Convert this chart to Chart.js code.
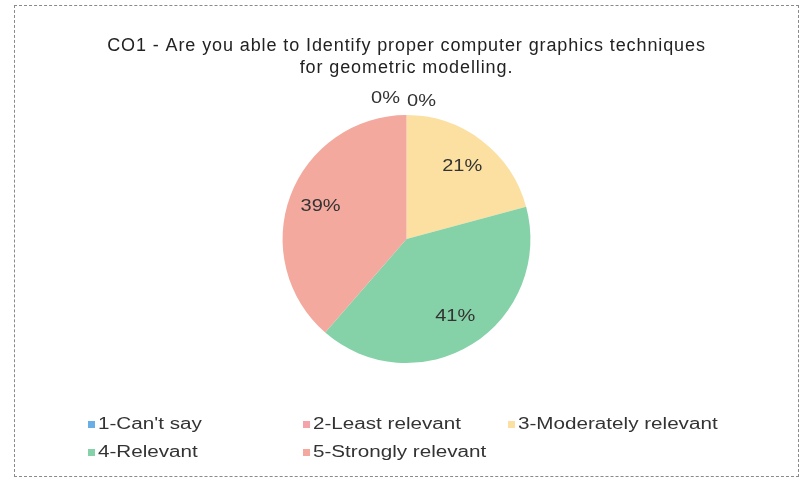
<!DOCTYPE html>
<html>
<head>
<meta charset="utf-8">
<script src="https://cdn.jsdelivr.net/npm/chart.js@4"></script>
<style>
    body { margin: 0; background: #fff; }
    #wrap {
        position: absolute; left: 14px; top: 5px;
        width: 783px; height: 470px;
        border: 1px dashed #8a8a8a;
    }
</style>
</head>
<body>
<div id="wrap"><canvas id="coChart" width="783" height="470"></canvas></div>
<script>
const categories = ['1-Can\'t say', '2-Least relevant', '3-Moderately relevant', '4-Relevant', '5-Strongly relevant'];
const percentValues = [0, 0, 21, 41, 39];
const sliceColors = ['#6aaee6', '#f4a3ab', '#fbe0a2', '#86d2a8', '#f3a99e'];
const titleLines = ['CO1 - Are you able to Identify proper computer graphics techniques', 'for geometric modelling.'];

const FONT = '"Liberation Sans", Arial, sans-serif';

// the scan is stretched sideways, text is drawn a bit wider
function wideText(ctx, str, x, y, sx) {
    ctx.save();
    ctx.translate(x, y);
    ctx.scale(sx, 1);
    ctx.fillText(str, 0, 0);
    ctx.restore();
}

const textSpacing = {
    id: 'textSpacing',
    beforeDraw(chart) {
        chart.ctx.letterSpacing = '0.9px';
    }
};

// labels on the slices, zero slices go above the pie
const sliceLabels = {
    id: 'sliceLabels',
    afterDatasetsDraw(chart) {
        const ctx = chart.ctx;
        const meta = chart.getDatasetMeta(0);
        ctx.save();
        ctx.font = '16px ' + FONT;
        ctx.letterSpacing = '0px';
        ctx.fillStyle = '#333';
        ctx.textAlign = 'center';
        ctx.textBaseline = 'middle';
        let zeroCount = 0;
        meta.data.forEach((arc, i) => {
            const v = percentValues[i];
            const p = arc.getProps(['x', 'y', 'startAngle', 'endAngle', 'outerRadius'], true);
            let x, y;
            if (v === 0) {
                x = p.x + (zeroCount === 0 ? -21 : 15);
                y = p.y - p.outerRadius - (zeroCount === 0 ? 17 : 14);
                zeroCount++;
            } else {
                const mid = (p.startAngle + p.endAngle) / 2;
                const d = p.outerRadius * 0.74;
                x = p.x + Math.cos(mid) * d;
                y = p.y + Math.sin(mid) * d;
            }
            wideText(ctx, v + '%', x, y, 1.25);
        });
        ctx.restore();
    }
};

// legend in a 3 column grid under the pie
const gridLegend = {
    id: 'gridLegend',
    afterDraw(chart) {
        const ctx = chart.ctx;
        const colX = [73, 288, 493];
        const rowY = [419, 447];
        ctx.save();
        ctx.font = '16px ' + FONT;
        ctx.letterSpacing = '0px';
        ctx.textBaseline = 'middle';
        ctx.textAlign = 'left';
        categories.forEach((name, i) => {
            const x = colX[i % 3];
            const y = rowY[Math.floor(i / 3)];
            ctx.fillStyle = sliceColors[i];
            ctx.fillRect(x, y - 4, 7, 7);
            ctx.fillStyle = '#333';
            wideText(ctx, name, x + 10, y, 1.29);
        });
        ctx.restore();
    }
};

new Chart(document.getElementById('coChart'), {
    type: 'pie',
    data: {
        labels: categories,
        datasets: [{
            data: percentValues,
            backgroundColor: sliceColors,
            borderWidth: 0
        }]
    },
    options: {
        responsive: false,
        animation: false,
        layout: { padding: { top: 0, bottom: 113, left: 0, right: 0 } },
        plugins: {
            legend: { display: false },
            tooltip: { enabled: false },
            title: {
                display: true,
                text: titleLines,
                color: '#222',
                font: { family: FONT, size: 18, weight: 'normal', lineHeight: 1.17 },
                padding: { top: 30, bottom: 37 }
            }
        }
    },
    plugins: [textSpacing, sliceLabels, gridLegend]
});
</script>
</body>
</html>
